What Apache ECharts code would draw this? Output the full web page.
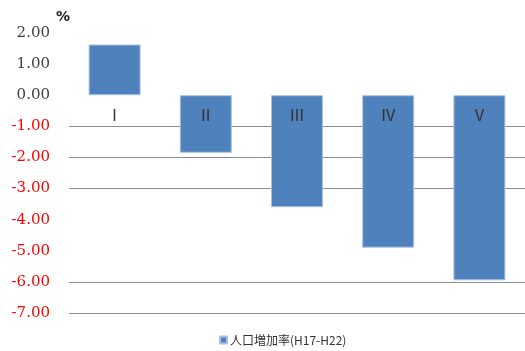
<!DOCTYPE html>
<html>
<head>
<meta charset="utf-8">
<script src="https://cdn.jsdelivr.net/npm/echarts@6/dist/echarts.min.js"></script>
<style>
  html, body { margin: 0; padding: 0; background: #fff; }
  #chart { width: 525px; height: 351px; }
</style>
</head>
<body>
<div id="chart"></div>
<script>
// Population growth rate by area group (H17–H22), percent
const categories = ['Ⅰ', 'Ⅱ', 'Ⅲ', 'Ⅳ', 'Ⅴ'];
const growthRate = [1.63, -1.85, -3.60, -4.90, -5.95];
const seriesName = '人口増加率(H17-H22)';
const yMin = -7, yMax = 2, yStep = 1;

// Horizontal rules drawn from the bottom tick upward (-7 … 2)
const gridColor = '#8c8c8c';
const none = 'rgba(0,0,0,0)';
const ruleColors = [gridColor, gridColor, none, none, gridColor, gridColor, gridColor, none, none, none];

// Category names sit just under the zero line: below a rising bar, inside a falling one
const barData = growthRate.map(v => ({
  value: v,
  label: { position: v >= 0 ? 'bottom' : 'insideTop' }
}));

const chart = echarts.init(document.getElementById('chart'));
chart.setOption({
  animation: false,
  backgroundColor: '#ffffff',
  grid: { left: 69, top: 33, width: 463, height: 280, containLabel: false },
  graphic: [{
    type: 'text', left: 56, top: 10,
    style: { text: '%', font: 'bold 14px "DejaVu Sans"', fill: '#222' }
  }],
  xAxis: {
    type: 'category',
    data: categories,
    axisLine: { show: false },
    axisTick: { show: false },
    axisLabel: { show: false }
  },
  yAxis: {
    type: 'value',
    min: yMin, max: yMax, interval: yStep,
    axisLine: { show: false },
    axisTick: { show: false },
    splitLine: { show: true, lineStyle: { color: ruleColors, width: 1 } },
    axisLabel: {
      margin: 19,
      fontSize: 15,
      fontFamily: '"DejaVu Serif"',
      formatter: v => v.toFixed(2),
      color: v => (Number(v) < 0 ? '#ff0000' : '#404040')
    }
  },
  legend: {
    left: 214, top: 329,
    icon: 'rect', itemWidth: 7, itemHeight: 7, itemGap: 4,
    textStyle: { fontSize: 12, fontFamily: '"Noto Sans CJK JP"', color: '#333', padding: [0, 0, 0, -2] },
    data: [seriesName]
  },
  series: [{
    name: seriesName,
    type: 'bar',
    data: barData,
    barCategoryGap: '43%',
    itemStyle: { color: '#4f81bd', borderColor: '#a9c2e2', borderWidth: 1 },
    label: {
      show: true,
      distance: 12,
      formatter: '{b}',
      fontSize: 16,
      fontFamily: '"Noto Sans CJK JP"',
      color: '#333'
    }
  }]
});
</script>
</body>
</html>
